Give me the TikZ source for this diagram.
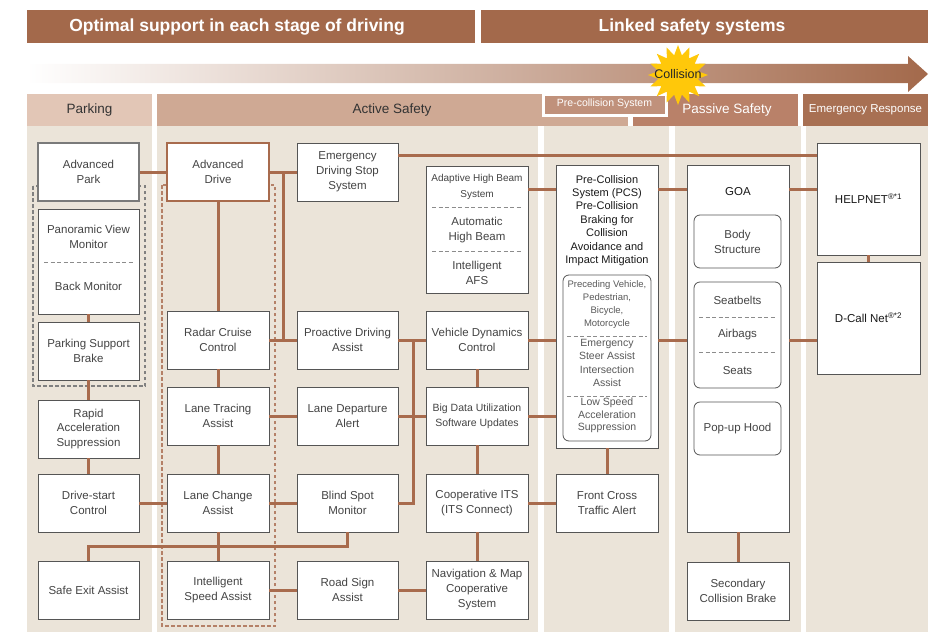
\documentclass[tikz,border=0pt]{standalone}
\usepackage{fontspec}
\setmainfont{Liberation Sans}
\usetikzlibrary{shapes.geometric, calc}

\definecolor{brownbar}{HTML}{A3694B}
\definecolor{linkbrown}{HTML}{A86B4D}
\definecolor{beige}{HTML}{EBE4D9}
\definecolor{parkhd}{HTML}{E2C6B6}
\definecolor{activehd}{HTML}{CFA994}
\definecolor{prehd}{HTML}{C0917B}
\definecolor{passivehd}{HTML}{B98169}
\definecolor{emerghd}{HTML}{A87053}
\definecolor{boxline}{HTML}{555555}
\definecolor{parkgray}{HTML}{7A7A7A}
\definecolor{txtgray}{HTML}{444444}
\definecolor{burst}{HTML}{FFC80A}

\begin{document}
\begin{tikzpicture}[x=1pt, y=-1pt,
    box/.style={draw=boxline, fill=white, line width=0.9pt, minimum width=102pt, minimum height=58pt,
      inner sep=1pt, align=center, text=txtgray, font=\fontsize{11.5}{15}\selectfont},
    roundbox/.style={box, rounded corners=6pt, line width=0.8pt, minimum width=87pt, minimum height=53pt},
    txt/.style={align=center, text=txtgray, inner sep=0pt, font=\fontsize{11.5}{15}\selectfont},
    smalltxt/.style={txt, font=\fontsize{9.5}{13}\selectfont, text=black!65},
    link/.style={draw=linkbrown, line width=3pt},
    divider/.style={draw=black!45, line width=0.8pt, dash pattern=on 4pt off 2.5pt},
    topbar/.style={fill=brownbar},
    hdtxt/.style={font=\fontsize{13.5}{16}\selectfont, inner sep=0pt}]

  \useasboundingbox (0,0) rectangle (931,634);

  \fill[topbar] (27,10) rectangle (475,43);
  \fill[topbar] (481,10) rectangle (928,43);
  \node[text=white, font=\fontsize{17.5}{20}\bfseries] (optimal) at (237,27) {Optimal support in each stage of driving};
  \node[text=white, font=\fontsize{17.5}{20}\bfseries] (linked) at (692,27) {Linked safety systems};

  \fill[parkhd] (27,94) rectangle (152,126);
  \fill[activehd] (157,94) rectangle (628,126);
  \fill[passivehd] (633,94) rectangle (798,126);
  \fill[emerghd] (803,94) rectangle (928,126);
  \node[hdtxt, text=black!80] (parking) at (89.5,110) {Parking};
  \node[hdtxt, text=black!80] (active) at (392,110) {Active Safety};
  \node[hdtxt, text=white] (passive) at (727,110) {Passive Safety};
  \node[hdtxt, text=white, font=\fontsize{11.5}{14}\selectfont] (emerg) at (865.5,110) {Emergency Response};
  \draw[draw=white, line width=3pt, fill=prehd] (543,94) rectangle (666,115);
  \node[hdtxt, text=white, font=\fontsize{10.5}{12}\selectfont] (precoll) at (604.5,104) {Pre-collision System};

  \shade[left color=white, right color=brownbar] (27,64) -- (908,64) -- (908,56) -- (928,74)
    -- (908,92) -- (908,83) -- (27,83) -- cycle;
  \node[star, star points=16, star point ratio=1.5, fill=burst, minimum size=60pt, inner sep=0pt] (burst) at (678,75) {};
  \node[font=\fontsize{12.5}{14}\selectfont, text=black!85, inner sep=0pt] (collision) at (678,74) {Collision};

  \fill[beige] (27,126) rectangle (152,632);
  \fill[beige] (157,126) rectangle (538,632);
  \fill[beige] (544,126) rectangle (669,632);
  \fill[beige] (675,126) rectangle (801,632);
  \fill[beige] (806,126) rectangle (928,632);

  \draw[draw=black!50, line width=1.5pt, dash pattern=on 3.5pt off 2.5pt] (33,186) rectangle (145,386);
  \draw[draw=linkbrown!85, line width=1.5pt, dash pattern=on 3.5pt off 2.5pt] (162,185) rectangle (275,626);

  \node[box, draw=parkgray, line width=2pt, minimum width=101pt] (park) at (88.5,172) {Advanced\\Park};
  \node[box, minimum width=101pt, minimum height=105pt] (pvm) at (88.5,261.5) {};
  \node[txt] (pvmtxt) at (88.5,237) {Panoramic View\\Monitor};
  \node[txt] (backtxt) at (88.5,286) {Back Monitor};
  \draw[divider] (44,262) -- (133,262);
  \node[box, minimum width=101pt] (psb) at (88.5,351) {Parking Support\\Brake};
  \node[box, minimum width=101pt, font=\fontsize{11.5}{14.5}\selectfont] (ras) at (88.5,429) {Rapid\\Acceleration\\Suppression};
  \node[box, minimum width=101pt] (dsc) at (88.5,503) {Drive-start\\Control};
  \node[box, minimum width=101pt] (sea) at (88.5,590) {Safe Exit Assist};

  \node[box, draw=linkbrown, line width=2pt] (adrive) at (218,172) {Advanced\\Drive};
  \node[box] (rcc) at (218,340) {Radar Cruise\\Control};
  \node[box] (lta) at (218,416) {Lane Tracing\\Assist};
  \node[box] (lca) at (218,503) {Lane Change\\Assist};
  \node[box] (isa) at (218,590) {Intelligent\\Speed Assist};

  \node[box, minimum width=101pt] (edss) at (347.5,172) {Emergency\\Driving Stop\\System};
  \node[box, minimum width=101pt] (pda) at (347.5,340) {Proactive Driving\\Assist};
  \node[box, minimum width=101pt] (lda) at (347.5,416) {Lane Departure\\Alert};
  \node[box, minimum width=101pt] (bsm) at (347.5,503) {Blind Spot\\Monitor};
  \node[box, minimum width=101pt] (rsa) at (347.5,590) {Road Sign\\Assist};

  \node[box, minimum height=127pt] (ahb) at (477,229.5) {};
  \node[txt, font=\fontsize{10}{15.5}\selectfont] (ahbtxt) at (477,187) {Adaptive High Beam\\System};
  \node[txt] (autotxt) at (477,230) {Automatic\\High Beam};
  \node[txt] (afstxt) at (477,273) {Intelligent\\AFS};
  \draw[divider] (432,207) -- (522,207);
  \draw[divider] (432,251) -- (522,251);
  \node[box] (vdc) at (477,340) {Vehicle Dynamics\\Control};
  \node[box, font=\fontsize{10.5}{15}\selectfont] (bdu) at (477,416) {Big Data Utilization\\Software Updates};
  \node[box] (cits) at (477,503) {Cooperative ITS\\(ITS Connect)};
  \node[box] (nav) at (477,590) {Navigation \& Map\\Cooperative\\System};

  \node[box, minimum height=283pt] (pcs) at (607,306.5) {};
  \node[txt, text=black!90, font=\fontsize{11}{13.4}\selectfont] (pcstxt) at (607,220.5)
    {Pre-Collision\\System (PCS)\\Pre-Collision\\Braking for\\Collision\\Avoidance and\\Impact Mitigation};
  \node[roundbox, minimum width=88pt, minimum height=166pt] (pcsin) at (607,358) {};
  \node[smalltxt] (pedtxt) at (607,305) {Preceding Vehicle,\\Pedestrian,\\Bicycle,\\Motorcycle};
  \node[smalltxt, font=\fontsize{10.5}{13.4}\selectfont] (steertxt) at (607,363) {Emergency\\Steer Assist\\Intersection\\Assist};
  \node[smalltxt, font=\fontsize{10.5}{12.5}\selectfont] (lowtxt) at (607,415.5) {Low Speed\\Acceleration\\Suppression};
  \draw[divider] (567,336) -- (647,336);
  \draw[divider] (567,396) -- (647,396);
  \node[box] (fcta) at (607,503) {Front Cross\\Traffic Alert};

  \node[box, minimum height=367pt] (goa) at (738,348.5) {};
  \node[txt, text=black!90] (goatxt) at (738,192) {GOA};
  \node[roundbox] (body) at (737.5,241.5) {Body\\Structure};
  \node[roundbox, minimum height=106pt] (sab) at (737.5,335) {};
  \node[txt] (belttxt) at (737.5,300) {Seatbelts};
  \node[txt] (bagtxt) at (737.5,335) {Airbags};
  \node[txt] (seattxt) at (737.5,371) {Seats};
  \draw[divider] (699,317) -- (776,317);
  \draw[divider] (699,352) -- (776,352);
  \node[roundbox] (hood) at (737.5,428.5) {Pop-up Hood};
  \node[box] (scb) at (738,591) {Secondary\\Collision Brake};

  \node[box, minimum width=103pt, minimum height=112pt, text=black!90] (help) at (868.5,199) {HELPNET\textsuperscript{®*1}};
  \node[box, minimum width=103pt, minimum height=112pt, text=black!90] (dcall) at (868.5,318) {D-Call Net\textsuperscript{®*2}};

  \coordinate (exitbus) at (347.5,546);
  \coordinate (drivebus) at (283,172);
  \coordinate (assistbus) at (413,340);
  \coordinate (beamrow) at (0,189);
  \coordinate (dynrow) at (0,340);

  \draw[link] (park) -- (adrive);
  \draw[link] (adrive) -- (edss);
  \draw[link] (pvm) -- (psb);
  \draw[link] (psb) -- (ras);
  \draw[link] (ras) -- (dsc);
  \draw[link] (dsc) -- (lca);
  \draw[link] (adrive) -- (rcc);
  \draw[link] (rcc) -- (lta);
  \draw[link] (lta) -- (lca);
  \draw[link] (lca) -- (isa);
  \draw[link] (sea) |- (exitbus) -- (bsm);
  \draw[link] (drivebus) -- (drivebus |- rcc);
  \draw[link] (rcc) -- (pda);
  \draw[link] (lta) -- (lda);
  \draw[link] (lca) -- (bsm);
  \draw[link] (isa) -- (rsa);
  \draw[link] (pda) -- (vdc);
  \draw[link] (lda) -- (bdu);
  \draw[link] (bsm) -| (assistbus);
  \draw[link] (rsa) -- (nav);
  \draw[link] (vdc) -- (bdu);
  \draw[link] (bdu) -- (cits);
  \draw[link] (cits) -- (nav);
  \draw[link] ([yshift=17pt]edss.east) -- ([yshift=17pt]edss.east -| help.west);
  \draw[link] (ahb.east |- beamrow) -- (pcs.west |- beamrow);
  \draw[link] (vdc) -- (vdc -| pcs.west);
  \draw[link] (bdu) -- (bdu -| pcs.west);
  \draw[link] (cits) -- (fcta);
  \draw[link] (pcs) -- (fcta);
  \draw[link] (pcs.east |- beamrow) -- (goa.west |- beamrow);
  \draw[link] (pcs.east |- dynrow) -- (goa.west |- dynrow);
  \draw[link] (goa.east |- beamrow) -- (help.west |- beamrow);
  \draw[link] (goa.east |- dynrow) -- (dcall.west |- dynrow);
  \draw[link] (help) -- (dcall);
  \draw[link] (goa) -- (scb);
\end{tikzpicture}
\end{document}
